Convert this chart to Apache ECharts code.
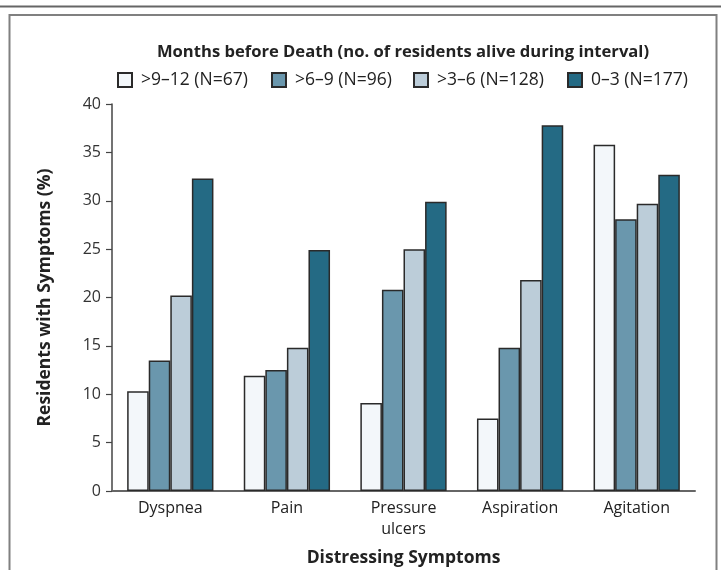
<!DOCTYPE html>
<html><head><meta charset="utf-8">
<script src="https://cdn.jsdelivr.net/npm/echarts@6/dist/echarts.min.js"></script>
<style>html,body{margin:0;padding:0;background:#fff}#c{width:721px;height:570px}</style>
</head><body><div id="c"></div>
<script>
const categories = ['Dyspnea', 'Pain', 'Pressure\nulcers', 'Aspiration', 'Agitation'];
const seriesNames = ['>9–12 (N=67)', '>6–9 (N=96)', '>3–6 (N=128)', '0–3 (N=177)'];
const v9to12 = [10.3, 11.9, 9.1, 7.5, 35.8];
const v6to9 = [13.5, 12.5, 20.8, 14.8, 28.1];
const v3to6 = [20.2, 14.8, 25.0, 21.8, 29.7];
const v0to3 = [32.3, 24.9, 29.9, 37.8, 32.7];
const yTicks = [0, 5, 10, 15, 20, 25, 30, 35, 40];
const colors = ['#f3f7fa', '#6a97ad', '#bccdd9', '#246a84'];

const FONT = '"Open Sans", Lato, sans-serif';
const chart = echarts.init(document.getElementById('c'), null, {renderer: 'canvas'});
const data = [v9to12, v6to9, v3to6, v0to3];
const legendLefts = [117, 271, 413, 567];
chart.setOption({
  animation: false,
  textStyle: {fontFamily: FONT},
  title: {
    text: 'Months before Death (no. of residents alive during interval)',
    left: 398, top: 39, textAlign: 'center',
    textStyle: {fontFamily: FONT, fontSize: 16.6, fontWeight: 'bold', color: '#222'}
  },
  legend: seriesNames.map((n, i) => ({
    left: legendLefts[i], top: 71, padding: 0,
    itemWidth: 14, itemHeight: 14,
    icon: 'rect',
    textStyle: {fontFamily: FONT, fontSize: 17.5, color: '#222', padding: [0, 0, 0, 4]},
    data: [n]
  })),
  grid: {left: 112, right: 26, top: 104, bottom: 79, containLabel: false, outerBoundsMode: 'none'},
  xAxis: {
    type: 'category', data: categories,
    name: 'Distressing Symptoms', nameLocation: 'middle', nameGap: 58,
    nameTextStyle: {fontFamily: FONT, fontSize: 17.5, fontWeight: 'bold', color: '#222'},
    axisLine: {lineStyle: {color: '#666', width: 2}},
    axisTick: {show: false},
    axisLabel: {fontFamily: FONT, fontSize: 16, color: '#222', margin: 7, lineHeight: 21}
  },
  yAxis: {
    type: 'value', min: 0, max: 40, interval: 5,
    name: 'Residents with Symptoms (%)', nameLocation: 'middle', nameGap: 58, nameRotate: 90,
    nameTextStyle: {fontFamily: FONT, fontSize: 17.5, fontWeight: 'bold', color: '#222'},
    axisLine: {show: true, lineStyle: {color: '#444', width: 1.5}},
    axisTick: {show: true, length: 6, lineStyle: {color: '#444', width: 1.2}},
    splitLine: {show: false},
    axisLabel: {fontFamily: FONT, fontSize: 16, color: '#333', margin: 11,
      formatter: v => yTicks.includes(v) ? String(v) : ''}
  },
  series: seriesNames.map((n, i) => ({
    name: n, type: 'bar', data: data[i],
    barGap: '0%', barCategoryGap: '26%',
    itemStyle: {color: colors[i], borderColor: '#2a2a2a', borderWidth: 1.5}
  })),
  graphic: [
    {type: 'line', shape: {x1: 0, y1: 6.5, x2: 721, y2: 6.5}, style: {stroke: '#666', lineWidth: 2}},
    {type: 'polyline', shape: {points: [[9.5, 570], [9.5, 15], [716.5, 15], [716.5, 570]]},
     style: {stroke: '#808080', lineWidth: 2, fill: null}}
  ]
});
</script></body></html>
